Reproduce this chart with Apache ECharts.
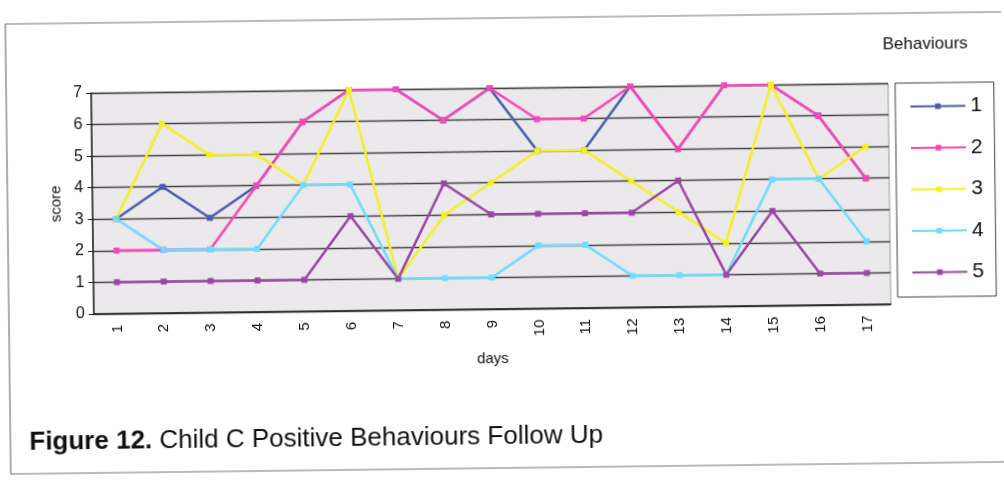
<!DOCTYPE html>
<html>
<head>
<meta charset="utf-8">
<script src="https://cdn.jsdelivr.net/npm/echarts@6/dist/echarts.min.js"></script>
<style>
    html, body { margin: 0; padding: 0; background: #fff; overflow: hidden; }
    #main { width: 1004px; height: 484px; transform: rotate(-0.7deg); }
</style>
</head>
<body>
<div id="main"></div>
<script>
// days on the x axis
var days = ['1', '2', '3', '4', '5', '6', '7', '8', '9', '10', '11', '12', '13', '14', '15', '16', '17'];
// scores per behaviour
var behaviour1 = [3, 4, 3, 4, 6, 7, 7, 6, 7, 5, 5, 7, 5, 7, 7, 6, 4];
var behaviour2 = [2, 2, 2, 4, 6, 7, 7, 6, 7, 6, 6, 7, 5, 7, 7, 6, 4];
var behaviour3 = [3, 6, 5, 5, 4, 7, 1, 3, 4, 5, 5, 4, 3, 2, 7, 4, 5];
var behaviour4 = [3, 2, 2, 2, 4, 4, 1, 1, 1, 2, 2, 1, 1, 1, 4, 4, 2];
var behaviour5 = [1, 1, 1, 1, 1, 3, 1, 4, 3, 3, 3, 3, 4, 1, 3, 1, 1];
var scoreTicks = [0, 1, 2, 3, 4, 5, 6, 7];

var font = 'Liberation Sans';

function makeSeries(name, data, color) {
    return {
        name: name,
        type: 'line',
        data: data,
        symbol: 'rect',
        symbolSize: 6,
        showAllSymbol: true,
        lineStyle: { color: color, width: 2.5 },
        itemStyle: { color: color },
        emphasis: { disabled: true }
    };
}

var myChart = echarts.init(document.getElementById('main'));
var option = {
    animation: false,
    textStyle: { fontFamily: font },
    title: {
        text: 'Behaviours',
        left: 880,
        top: 36,
        textStyle: { fontSize: 17, fontWeight: 'normal', color: '#111', fontFamily: font }
    },
    legend: {
        orient: 'vertical',
        left: 897,
        top: 88,
        padding: [13, 12, 14, 14],
        itemWidth: 55,
        itemHeight: 7,
        itemGap: 20.5,
        borderColor: '#444',
        borderWidth: 1,
        textStyle: { fontSize: 21, color: '#111', fontFamily: font },
        data: ['1', '2', '3', '4', '5']
    },
    grid: {
        left: 93,
        top: 88,
        width: 797,
        height: 221,
        show: true,
        backgroundColor: '#ebe9ec',
        borderColor: '#999',
        borderWidth: 1
    },
    xAxis: {
        type: 'category',
        data: days,
        boundaryGap: true,
        name: 'days',
        nameLocation: 'middle',
        nameGap: 42,
        nameTextStyle: { fontSize: 15, color: '#111' },
        axisLine: { lineStyle: { color: '#222', width: 1.5 } },
        axisTick: { show: false },
        axisLabel: { rotate: 90, fontSize: 15, color: '#111', margin: 11 }
    },
    yAxis: {
        type: 'value',
        min: scoreTicks[0],
        max: scoreTicks[scoreTicks.length - 1],
        interval: 1,
        name: 'score',
        nameLocation: 'middle',
        nameGap: 28,
        nameTextStyle: { fontSize: 15, color: '#111' },
        axisLine: { show: true, lineStyle: { color: '#222', width: 1.5 } },
        axisTick: { show: true, length: 5, lineStyle: { color: '#222' } },
        axisLabel: { fontSize: 16, color: '#111', margin: 9 },
        splitLine: { show: true, lineStyle: { color: '#444', width: 1.3 } }
    },
    series: [
        makeSeries('1', behaviour1, '#4a5cb0'),
        makeSeries('2', behaviour2, '#ff44b8'),
        makeSeries('3', behaviour3, '#f5f020'),
        makeSeries('4', behaviour4, '#6cdcff'),
        makeSeries('5', behaviour5, '#9a46a6')
    ],
    graphic: [
        {
            type: 'rect',
            shape: { x: 8, y: 18, width: 1010, height: 450 },
            style: { fill: 'none', stroke: '#777', lineWidth: 1.2 },
            z: -1
        },
        {
            type: 'text',
            left: 27,
            top: 424,
            style: {
                text: '{b|Figure 12.} Child C Positive Behaviours Follow Up',
                font: '26px "Liberation Sans"',
                fill: '#111',
                rich: {
                    b: { fontWeight: 'bold', fontSize: 26, fontFamily: font, fill: '#111' }
                }
            }
        }
    ]
};

window.onresize = function () {
    myChart.resize();
};
myChart.setOption(option);
</script>
</body>
</html>
